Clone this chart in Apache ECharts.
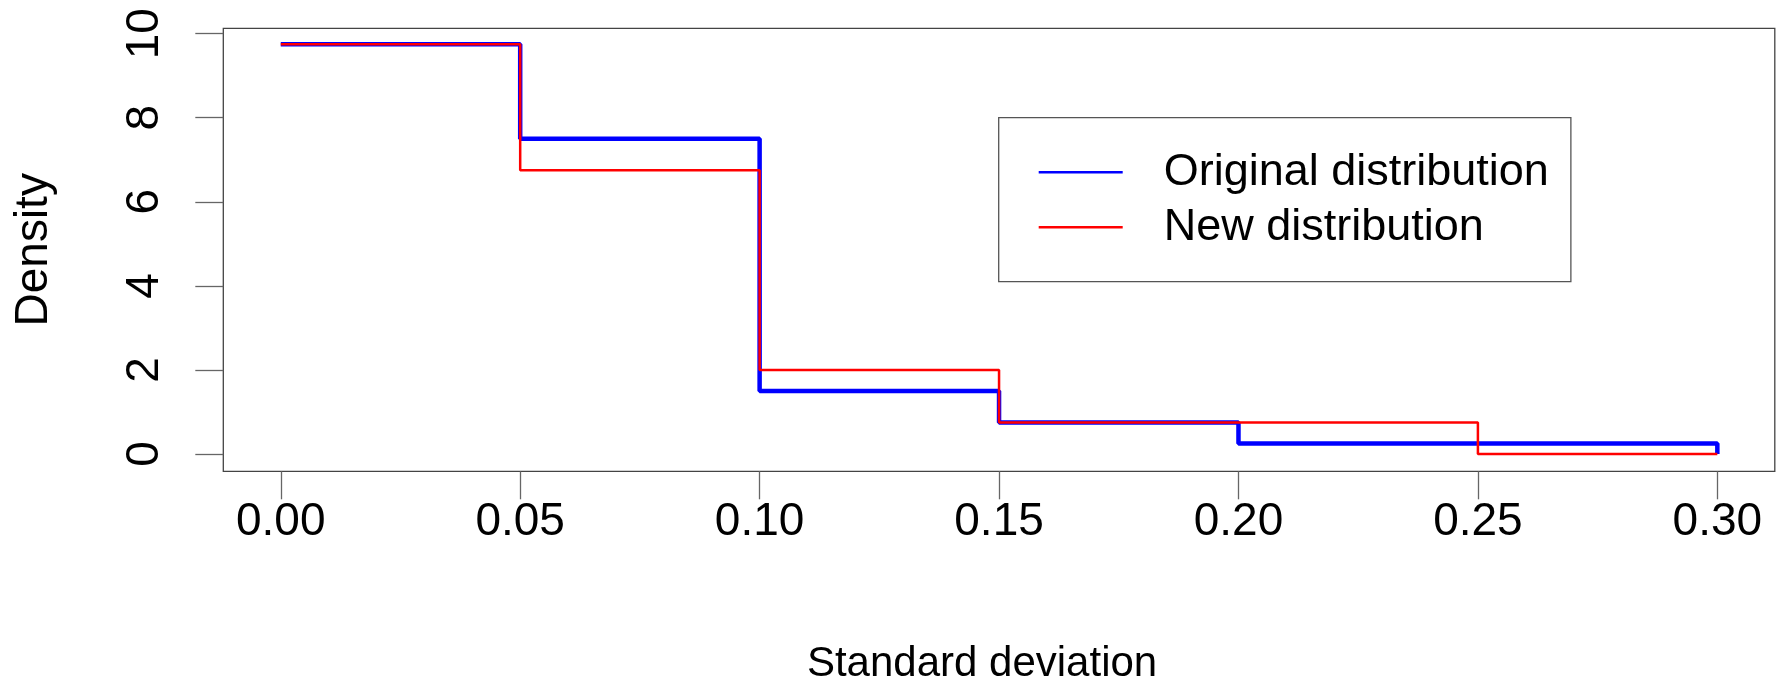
<!DOCTYPE html>
<html>
<head>
<meta charset="utf-8">
<script src="https://cdn.jsdelivr.net/npm/echarts@6/dist/echarts.min.js"></script>
<style>
html,body{margin:0;padding:0;background:#fff;}
#chart{width:1781px;height:683px;}
</style>
</head>
<body>
<div id="chart"></div>
<script>
// Data
const xBreaks = [0, 0.05, 0.10, 0.15, 0.20, 0.25, 0.30];
const originalDensity = [9.75, 7.5, 1.5, 0.75, 0.25, 0.25, 0];
const newDensity = [9.75, 6.75, 2.0, 0.75, 0.75, 0, 0];
const xTickValues = [0, 0.05, 0.10, 0.15, 0.20, 0.25, 0.30];
const yTickValues = [0, 2, 4, 6, 8, 10];
const seriesNames = ['Original distribution', 'New distribution'];
const xTitle = 'Standard deviation';
const yTitle = 'Density';

const FONT = '"Liberation Sans", Arial, sans-serif';
const chart = echarts.init(document.getElementById('chart'), null, {renderer: 'canvas'});

const toPairs = (ys) => xBreaks.map((x, i) => [x, ys[i]]);

chart.setOption({
  animation: false,
  backgroundColor: '#ffffff',
  grid: {left: 223.3, right: 6.2, top: 28.3, bottom: 211.7, show: true, borderColor: '#444', borderWidth: 1.3,
         backgroundColor: 'transparent', containLabel: false, outerBoundsMode: 'none'},
  xAxis: {
    type: 'value', min: -0.012, max: 0.312,
    axisLine: {show: false, onZero: false},
    axisTick: {show: true, length: 28, customValues: xTickValues, lineStyle: {color: '#666', width: 1.3}},
    splitLine: {show: false},
    axisLabel: {margin: 28, fontSize: 46, fontFamily: FONT, color: '#000', customValues: xTickValues, formatter: v => v.toFixed(2)},
    name: xTitle, nameLocation: 'middle', nameGap: 172,
    nameTextStyle: {fontSize: 42, fontFamily: FONT, color: '#000', padding: [0, 34, 0, 0]}
  },
  yAxis: {
    type: 'value', min: -0.412, max: 10.128,
    axisLine: {show: false, onZero: false},
    axisTick: {show: true, length: 28, customValues: yTickValues, lineStyle: {color: '#666', width: 1.3}},
    splitLine: {show: false},
    axisLabel: {margin: 55, rotate: 90, fontSize: 46, fontFamily: FONT, color: '#000', customValues: yTickValues},
    name: yTitle, nameLocation: 'middle', nameGap: 166, nameRotate: 90,
    nameTextStyle: {fontSize: 46, fontFamily: FONT, color: '#000'}
  },
  legend: {
    data: seriesNames,
    orient: 'vertical',
    left: 998.7, top: 117.7,
    padding: [32, 22, 32, 40],
    itemWidth: 84, itemHeight: 2.5, itemGap: 10,
    icon: 'rect',
    borderColor: '#555', borderWidth: 1.3,
    textStyle: {fontSize: 45, lineHeight: 44, fontFamily: FONT, color: '#000', padding: [0, 0, 0, 36]}
  },
  series: [
    {
      name: seriesNames[0], type: 'line', step: 'end',
      data: toPairs(originalDensity), symbol: 'none', clip: false,
      color: '#0000ff', lineStyle: {color: '#0000ff', width: 4.5}, z: 2
    },
    {
      name: seriesNames[1], type: 'line', step: 'end',
      data: toPairs(newDensity), symbol: 'none', clip: false,
      color: '#ff0000', lineStyle: {color: '#ff0000', width: 2.5}, z: 3
    }
  ]
});
</script>
</body>
</html>
